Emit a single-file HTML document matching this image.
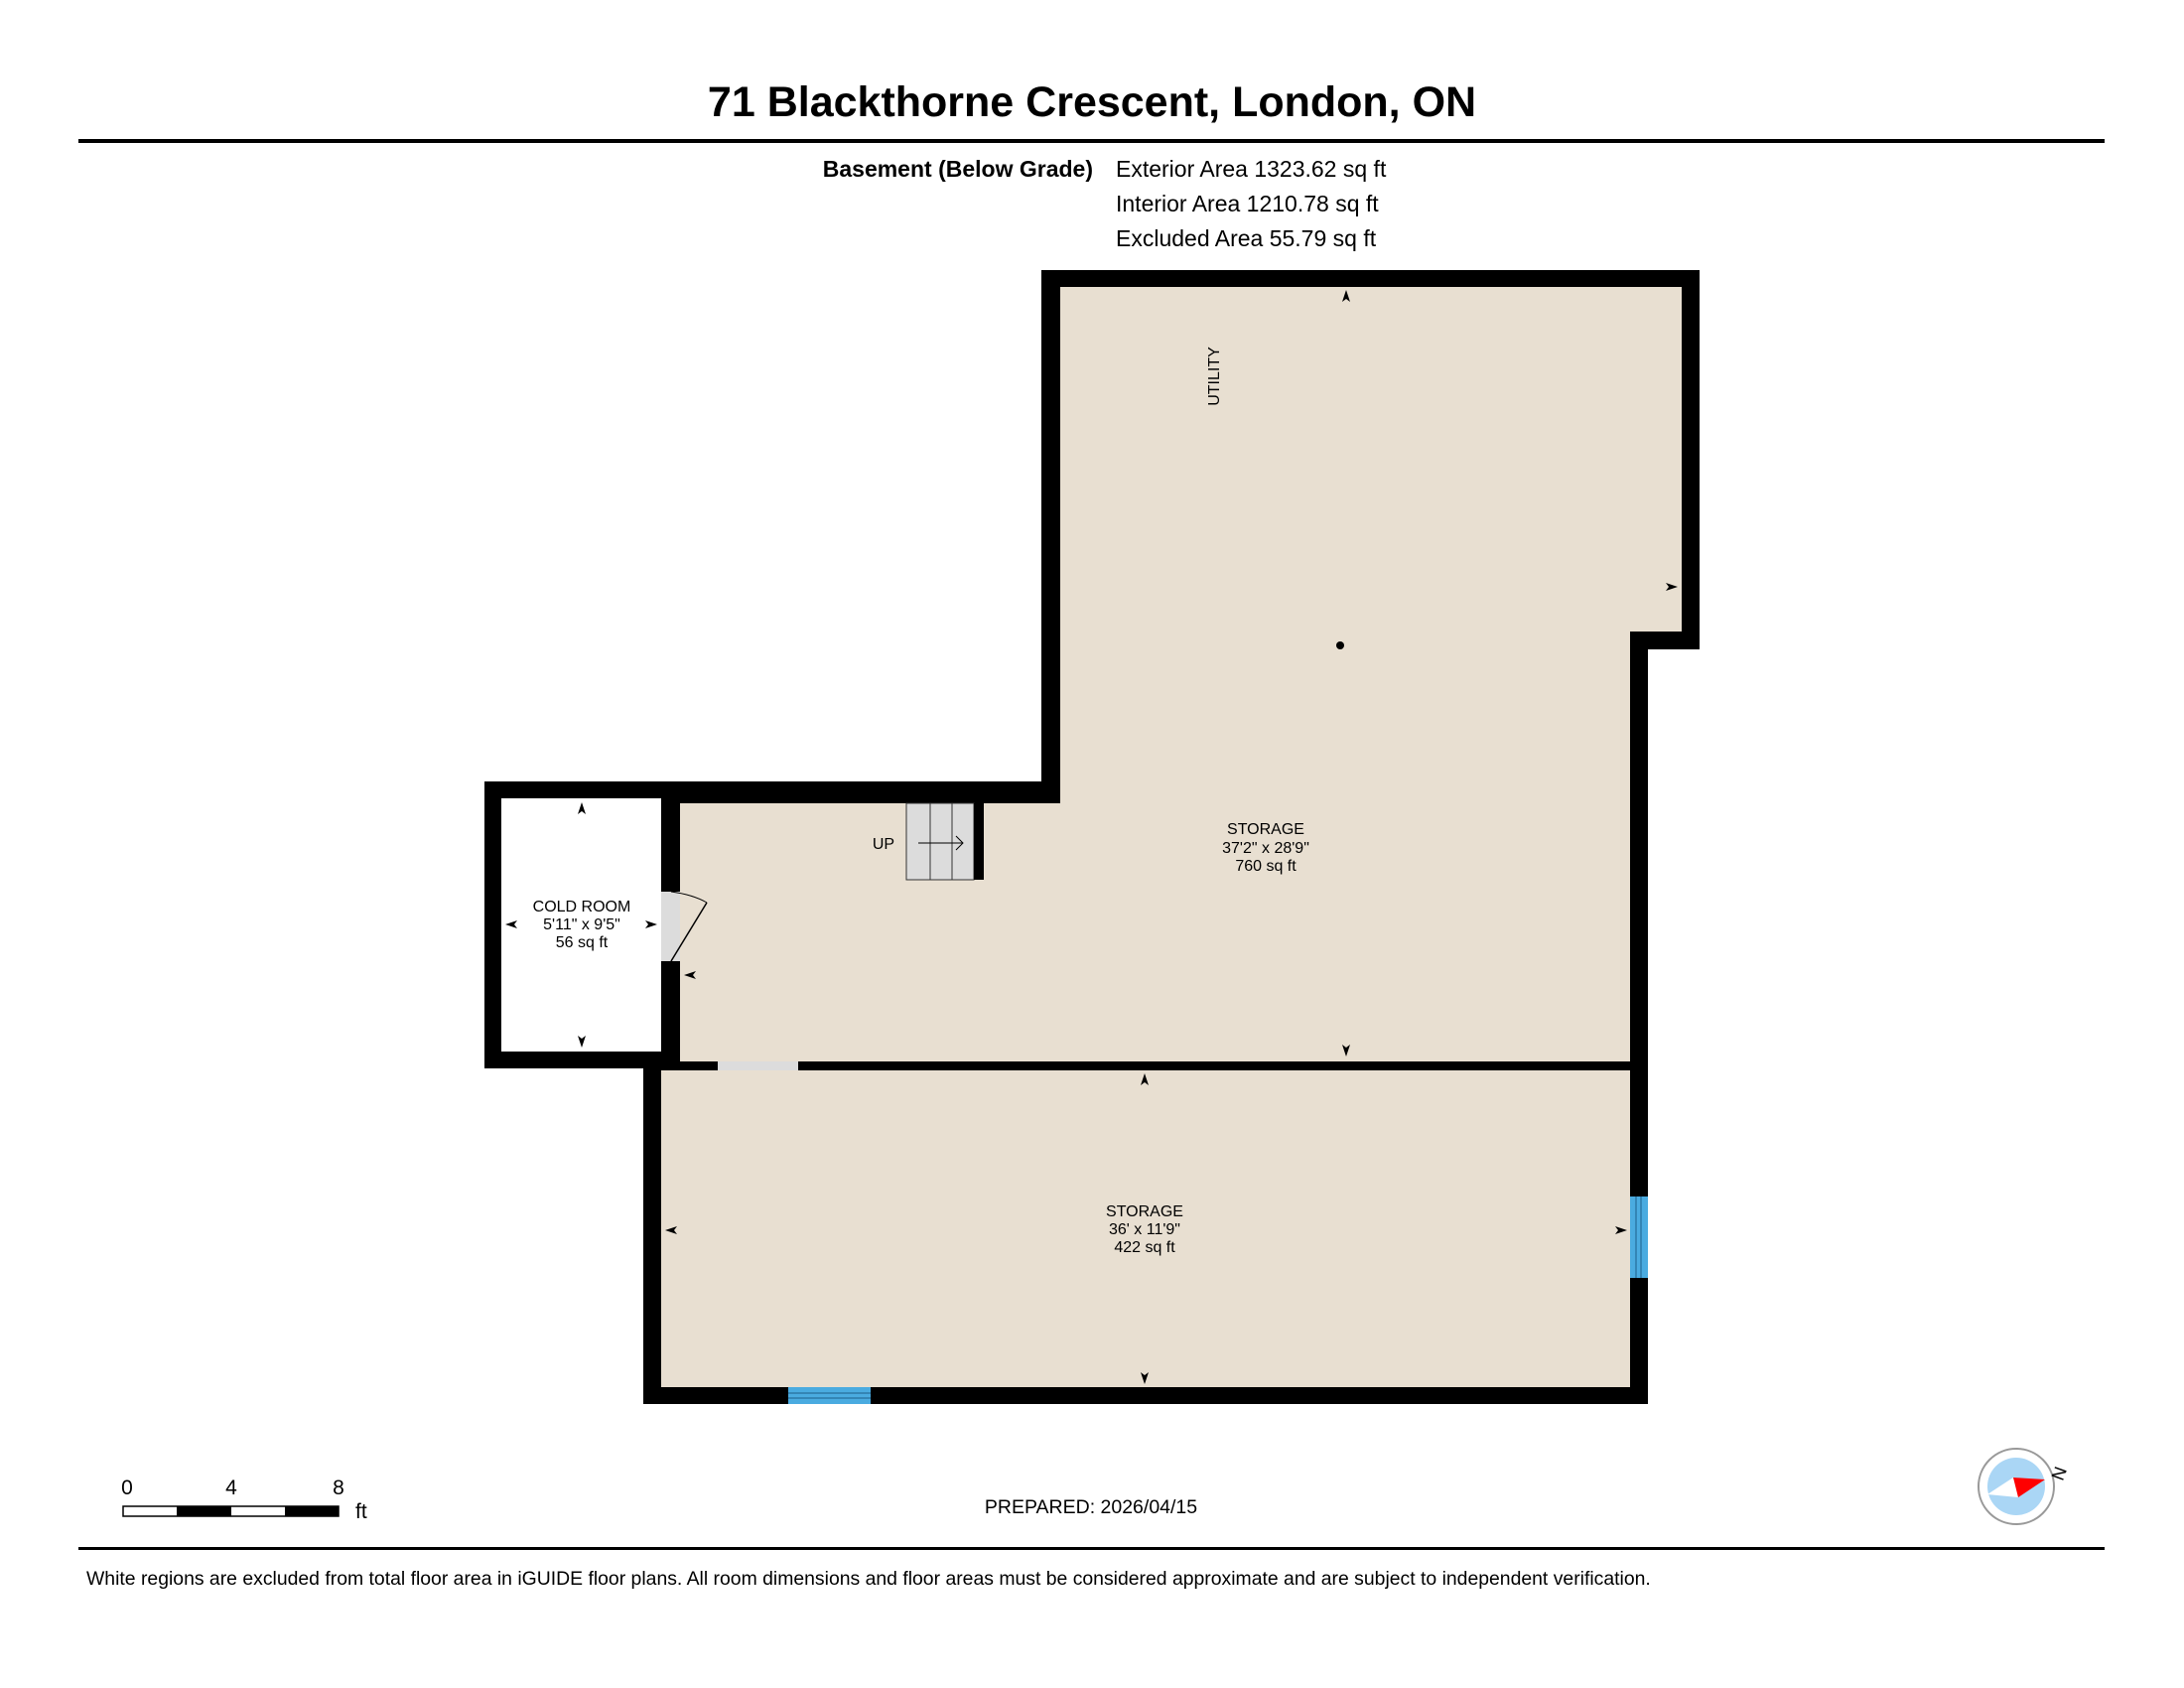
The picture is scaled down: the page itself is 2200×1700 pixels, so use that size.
<!DOCTYPE html>
<html><head><meta charset="utf-8"><style>
html,body{margin:0;padding:0;background:#fff}
svg{display:block}
text{font-family:"Liberation Sans",Arial,sans-serif;fill:#000}
</style></head><body>
<svg width="2200" height="1700" viewBox="0 0 2200 1700" xmlns="http://www.w3.org/2000/svg">
<text x="1100" y="117" font-size="43" font-weight="bold" text-anchor="middle">71 Blackthorne Crescent, London, ON</text>
<rect x="79" y="140" width="2041" height="4" fill="#000"/>
<text x="1101" y="178" font-size="23" font-weight="bold" text-anchor="end">Basement (Below Grade)</text>
<text x="1124" y="178" font-size="23">Exterior Area 1323.62 sq ft</text>
<text x="1124" y="213" font-size="23">Interior Area 1210.78 sq ft</text>
<text x="1124" y="248" font-size="23">Excluded Area 55.79 sq ft</text>

<!-- floor fills -->
<polygon points="1049,272 1712,272 1712,654 1660,654 1660,1069 666,1069 666,787 1049,787" fill="#e8dfd1"/>
<rect x="666" y="1069" width="994" height="345" fill="#e8dfd1"/>
<rect x="488" y="787" width="197" height="289" fill="#fff"/>

<!-- walls -->
<g fill="#000">
<rect x="1049" y="272" width="663" height="17"/>
<rect x="1049" y="272" width="19" height="537"/>
<rect x="1694" y="272" width="18" height="382"/>
<rect x="1642" y="636" width="70" height="18"/>
<rect x="1642" y="636" width="18" height="778"/>
<rect x="488" y="787" width="580" height="17"/>
<rect x="685" y="787" width="383" height="22"/>
<rect x="488" y="787" width="17" height="289"/>
<rect x="488" y="1059" width="197" height="17"/>
<rect x="666" y="787" width="19" height="111"/>
<rect x="666" y="968" width="19" height="110"/>
<rect x="666" y="1069" width="994" height="9"/>
<rect x="648" y="1069" width="18" height="345"/>
<rect x="648" y="1397" width="1012" height="17"/>
</g>
<!-- door -->
<rect x="666" y="898" width="19" height="70" fill="#dcdcdc"/>
<line x1="676" y1="968" x2="712" y2="909" stroke="#000" stroke-width="1.5"/>
<path d="M676,898 Q698,901 712,909" fill="none" stroke="#000" stroke-width="1"/>
<!-- sliding opening -->
<rect x="723" y="1069" width="81" height="9" fill="#dcdcdc"/>
<!-- stairs -->
<rect x="913" y="809" width="68" height="77" fill="#dcdcdc" stroke="#333" stroke-width="1"/>
<line x1="937" y1="809" x2="937" y2="886" stroke="#333" stroke-width="1"/>
<line x1="959" y1="809" x2="959" y2="886" stroke="#333" stroke-width="1"/>
<rect x="981" y="809" width="10" height="77" fill="#000"/>
<line x1="925" y1="849" x2="970" y2="849" stroke="#000" stroke-width="1"/>
<polyline points="963,842 970,849 963,856" fill="none" stroke="#000" stroke-width="1"/>
<text x="890" y="855" font-size="16" text-anchor="middle">UP</text>
<!-- windows -->
<rect x="794" y="1397" width="83" height="17" fill="#4aabe0"/>
<line x1="794" y1="1403" x2="877" y2="1403" stroke="#1d5f8a" stroke-width="1"/>
<line x1="794" y1="1408" x2="877" y2="1408" stroke="#1d5f8a" stroke-width="1"/>
<rect x="1642" y="1205" width="18" height="82" fill="#4aabe0"/>
<line x1="1648" y1="1205" x2="1648" y2="1287" stroke="#1d5f8a" stroke-width="1"/>
<line x1="1653" y1="1205" x2="1653" y2="1287" stroke="#1d5f8a" stroke-width="1"/>

<!-- arrowheads -->
<g fill="#000">
<path d="M1356,292 l-4,12 l4,-3 l4,3z"/>
<path d="M1356,1064 l-4,-12 l4,3 l4,-3z"/>
<path d="M1690,591 l-12,-4 l3,4 l-3,4z"/>
<path d="M689,982 l12,-4 l-3,4 l3,4z"/>
<path d="M586,808 l-4,12 l4,-3 l4,3z"/>
<path d="M586,1055 l-4,-12 l4,3 l4,-3z"/>
<path d="M509,931 l12,-4 l-3,4 l3,4z"/>
<path d="M662,931 l-12,-4 l3,4 l-3,4z"/>
<path d="M1153,1081 l-4,12 l4,-3 l4,3z"/>
<path d="M1153,1394 l-4,-12 l4,3 l4,-3z"/>
<path d="M670,1239 l12,-4 l-3,4 l3,4z"/>
<path d="M1639,1239 l-12,-4 l3,4 l-3,4z"/>
</g>
<circle cx="1350" cy="650" r="4" fill="#000"/>

<!-- labels -->
<text font-size="16" text-anchor="middle" transform="translate(1228,379) rotate(-90)">UTILITY</text>
<g font-size="16" text-anchor="middle">
<text x="1275" y="840">STORAGE</text>
<text x="1275" y="859">37'2" x 28'9"</text>
<text x="1275" y="877">760 sq ft</text>
<text x="586" y="918">COLD ROOM</text>
<text x="586" y="936">5'11" x 9'5"</text>
<text x="586" y="954">56 sq ft</text>
<text x="1153" y="1225">STORAGE</text>
<text x="1153" y="1243">36' x 11'9"</text>
<text x="1153" y="1261">422 sq ft</text>
</g>

<!-- scale bar -->
<text x="128" y="1505" font-size="21" text-anchor="middle">0</text>
<text x="233" y="1505" font-size="21" text-anchor="middle">4</text>
<text x="341" y="1505" font-size="21" text-anchor="middle">8</text>
<rect x="124" y="1517" width="217" height="10" fill="#fff" stroke="#000" stroke-width="1.5"/>
<rect x="178" y="1517" width="55" height="10" fill="#000"/>
<rect x="287" y="1517" width="54" height="10" fill="#000"/>
<text x="358" y="1529" font-size="21">ft</text>
<text x="1099" y="1524" font-size="19.5" text-anchor="middle">PREPARED: 2026/04/15</text>

<!-- compass -->
<circle cx="2031" cy="1497" r="38" fill="#fff" stroke="#999" stroke-width="2"/>
<circle cx="2031" cy="1497" r="29" fill="#aad6f5"/>
<polygon points="2002,1505 2028,1488 2033,1508" fill="#fff"/>
<polygon points="2028,1488 2060,1490 2033,1508" fill="#f00"/>
<text font-size="18" text-anchor="middle" transform="translate(2080,1486) rotate(-70)">N</text>

<rect x="79" y="1558" width="2041" height="3" fill="#000"/>
<text x="87" y="1596" font-size="19.4">White regions are excluded from total floor area in iGUIDE floor plans. All room dimensions and floor areas must be considered approximate and are subject to independent verification.</text>
</svg>
</body></html>
